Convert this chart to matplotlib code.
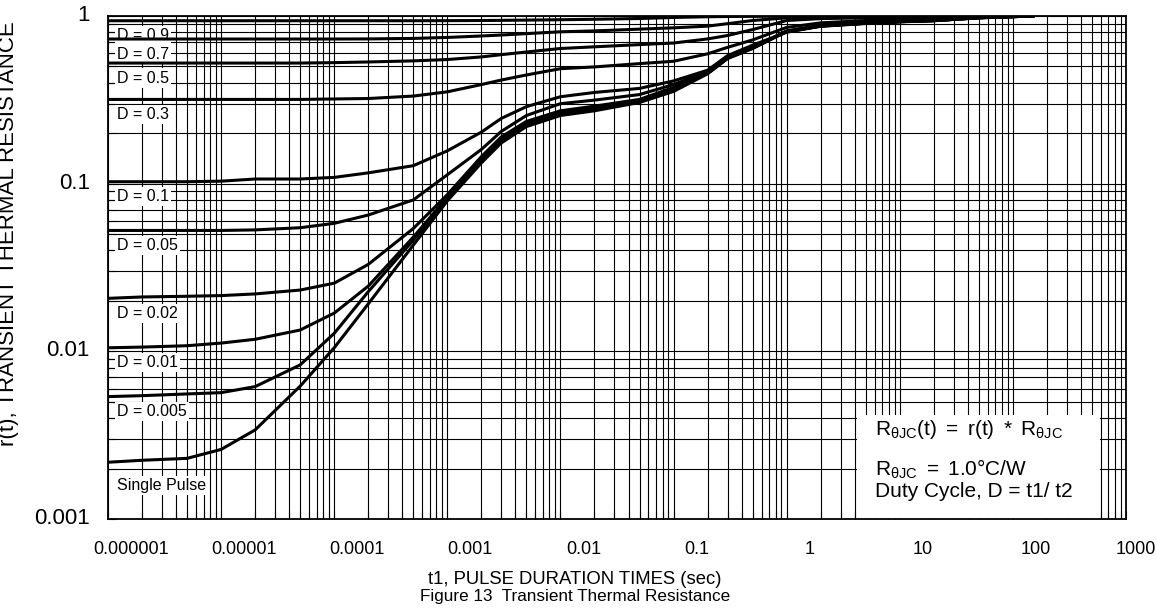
import numpy as np
import matplotlib
matplotlib.use('Agg')
import matplotlib.pyplot as plt
from matplotlib.patches import Rectangle
from matplotlib.ticker import FixedLocator, LogLocator, NullFormatter
from matplotlib.transforms import ScaledTranslation

plt.rcParams['font.family'] = ['Liberation Sans', 'DejaVu Sans']
plt.rcParams['mathtext.fontset'] = 'custom'
plt.rcParams['mathtext.rm'] = 'Liberation Sans'
plt.rcParams['mathtext.it'] = 'Liberation Sans:italic'

t_sec = [1e-6, 2e-6, 5e-6, 1e-5, 2e-5, 5e-5, 1e-4, 2e-4, 5e-4, 1e-3, 2e-3, 3e-3, 5e-3,
         1e-2, 2e-2, 5e-2, 0.1, 0.2, 0.3, 0.5, 1, 2, 5, 10, 20, 50, 150]

# r(t) for each duty cycle
r_d09 = [0.937, 0.937, 0.937, 0.937, 0.937, 0.937, 0.937, 0.937, 0.937, 0.938, 0.94, 0.942, 0.945,
         0.95, 0.956, 0.966, 0.98, 0.99, 0.993, 0.995, 0.998, 1.0, 1.0, 1.0, 1.0, 1.0, 1.0]
r_d07 = [0.729, 0.729, 0.729, 0.729, 0.729, 0.729, 0.729, 0.73, 0.735, 0.745, 0.76, 0.77, 0.785,
         0.805, 0.815, 0.835, 0.85, 0.87, 0.90, 0.94, 0.975, 0.99, 0.995, 0.997, 0.998, 1.0, 1.0]
r_d05 = [0.524, 0.524, 0.524, 0.524, 0.524, 0.524, 0.527, 0.532, 0.54, 0.55, 0.57, 0.588, 0.61,
         0.64, 0.655, 0.675, 0.69, 0.73, 0.765, 0.83, 0.94, 0.965, 0.975, 0.98, 0.985, 0.99, 1.0]
r_d03 = [0.318, 0.318, 0.318, 0.318, 0.318, 0.318, 0.32, 0.322, 0.333, 0.353, 0.39, 0.415, 0.445,
         0.485, 0.497, 0.52, 0.537, 0.595, 0.65, 0.72, 0.855, 0.91, 0.94, 0.955, 0.965, 0.98, 1.0]
r_d01 = [0.1027, 0.1027, 0.1027, 0.1035, 0.1066, 0.1066, 0.109, 0.116, 0.128, 0.157, 0.203, 0.245, 0.288,
         0.33, 0.35, 0.37, 0.41, 0.475, 0.58, 0.67, 0.80, 0.87, 0.905, 0.925, 0.94, 0.975, 1.0]
r_d005 = [0.0526, 0.0526, 0.0526, 0.0526, 0.053, 0.0546, 0.058, 0.065, 0.08, 0.113, 0.16, 0.205, 0.255,
          0.30, 0.315, 0.34, 0.39, 0.468, 0.57, 0.655, 0.805, 0.868, 0.902, 0.922, 0.938, 0.975, 1.0]
r_d002 = [0.0207, 0.0211, 0.0213, 0.0215, 0.022, 0.0232, 0.0255, 0.033, 0.054, 0.086, 0.145, 0.19, 0.235,
          0.272, 0.29, 0.318, 0.375, 0.462, 0.565, 0.65, 0.815, 0.878, 0.91, 0.93, 0.942, 0.978, 1.0]
r_d001 = [0.0105, 0.0106, 0.0108, 0.0112, 0.0118, 0.0134, 0.0169, 0.0245, 0.048, 0.083, 0.14, 0.183, 0.228,
          0.265, 0.283, 0.312, 0.368, 0.458, 0.562, 0.645, 0.812, 0.876, 0.908, 0.928, 0.94, 0.977, 1.0]
r_d0005 = [0.00537, 0.00544, 0.00557, 0.00567, 0.00616, 0.0083, 0.0128, 0.0227, 0.046, 0.081, 0.137, 0.179, 0.224,
           0.261, 0.279, 0.308, 0.364, 0.455, 0.56, 0.642, 0.81, 0.874, 0.906, 0.926, 0.938, 0.977, 1.0]
r_single = [0.00218, 0.00224, 0.0023, 0.0026, 0.0034, 0.0062, 0.0105, 0.0192, 0.043, 0.079, 0.133, 0.175, 0.219,
            0.255, 0.272, 0.305, 0.355, 0.452, 0.557, 0.64, 0.808, 0.872, 0.905, 0.925, 0.937, 0.977, 1.0]

curve_labels = ['D = 0.9', 'D = 0.7', 'D = 0.5', 'D = 0.3', 'D = 0.1', 'D = 0.05',
                'D = 0.02', 'D = 0.01', 'D = 0.005', 'Single Pulse']
curves = [r_d09, r_d07, r_d05, r_d03, r_d01, r_d005, r_d002, r_d001, r_d0005, r_single]

x_ticks = [1e-6, 1e-5, 1e-4, 1e-3, 1e-2, 1e-1, 1, 10, 100, 1000]
x_tick_labels = ['0.000001', '0.00001', '0.0001', '0.001', '0.01', '0.1', '1', '10', '100', '1000']
y_ticks = [0.001, 0.01, 0.1, 1]
y_tick_labels = ['0.001', '0.01', '0.1', '1']

fig = plt.figure(figsize=(11.57, 6.15), dpi=100)
ax = fig.add_axes([108 / 1157, 1 - 519 / 615, 1018 / 1157, 503 / 615])
ax.set_xscale('log')
ax.set_yscale('log')
ax.set_xlim(x_ticks[0], x_ticks[-1])
ax.set_ylim(y_ticks[0], y_ticks[-1])

ax.xaxis.set_major_locator(FixedLocator(x_ticks))
ax.set_xticklabels(x_tick_labels)
ax.yaxis.set_major_locator(FixedLocator(y_ticks))
ax.set_yticklabels(y_tick_labels)
ax.xaxis.set_minor_locator(LogLocator(base=10, subs=range(2, 10), numticks=50))
ax.yaxis.set_minor_locator(LogLocator(base=10, subs=range(2, 10), numticks=50))
ax.xaxis.set_minor_formatter(NullFormatter())
ax.yaxis.set_minor_formatter(NullFormatter())

# grid drawn by hand so the white note box can hide it but not the ticks
xg = [v for v in list(ax.get_xticks()) + list(ax.get_xticks(minor=True)) if x_ticks[0] <= v <= x_ticks[-1]]
yg = [v for v in list(ax.get_yticks()) + list(ax.get_yticks(minor=True)) if y_ticks[0] <= v <= y_ticks[-1]]
for v in xg:
    ax.axvline(v, color='black', linewidth=0.8, zorder=1)
for v in yg:
    ax.axhline(v, color='black', linewidth=0.8, zorder=1)

ax.tick_params(which='both', direction='in', length=6, width=0.8, colors='black')
ax.tick_params(axis='x', which='major', labelsize=13, pad=16)
ax.tick_params(axis='y', which='major', labelsize=16, pad=13)
xlbls = ax.get_xticklabels()
for i, lbl in enumerate(xlbls):
    shift = 10 if i == len(xlbls) - 1 else 23
    lbl.set_transform(lbl.get_transform() + ScaledTranslation(shift / 100, 0, fig.dpi_scale_trans))
for lbl in ax.get_yticklabels():
    lbl.set_transform(lbl.get_transform() + ScaledTranslation(0, 3 / 100, fig.dpi_scale_trans))

for side in ['left', 'right', 'top', 'bottom']:
    ax.spines[side].set_linewidth(1.3)
    ax.spines[side].set_color('black')

for lab, r in zip(curve_labels, curves):
    ax.plot(t_sec, r, color='black', linewidth=2.2, zorder=3, solid_joinstyle='round')
    dy = -16.5 if lab == 'Single Pulse' else -10.8
    ax.annotate(lab, xy=(t_sec[0], r[0]), xytext=(6.5, dy), textcoords='offset points',
                ha='left', va='center', fontsize=11.5, zorder=2.2,
                bbox=dict(facecolor='white', edgecolor='none', pad=1.5))

# note box
ax.add_patch(Rectangle((0.736, 0.0), 0.238, 0.207, transform=ax.transAxes,
                       facecolor='white', edgecolor='none', zorder=2))
ax.text(0.753, 0.167, r'$\mathregular{R_{\theta JC}(t)\ =\ r(t)\ *\ R_{\theta JC}}$',
        transform=ax.transAxes, fontsize=15, va='baseline', zorder=4)
ax.text(0.753, 0.086, r'$\mathregular{R_{\theta JC}\ =\ 1.0°C/W}$',
        transform=ax.transAxes, fontsize=15, va='baseline', zorder=4)
ax.text(0.753, 0.044, 'Duty Cycle, D = t1/ t2',
        transform=ax.transAxes, fontsize=15, va='baseline', zorder=4)

fig.text(9 / 1157, 1 - 234 / 615, 'r(t), TRANSIENT THERMAL RESISTANCE', rotation=90,
         ha='center', va='center', fontsize=16)
fig.text(575 / 1157, 1 - 579 / 615, 't1, PULSE DURATION TIMES (sec)',
         ha='center', va='center', fontsize=13.3)
fig.text(575 / 1157, 1 - 597 / 615, 'Figure 13  Transient Thermal Resistance',
         ha='center', va='center', fontsize=12.3)

fig.savefig('out.png', dpi=100, facecolor='white')
